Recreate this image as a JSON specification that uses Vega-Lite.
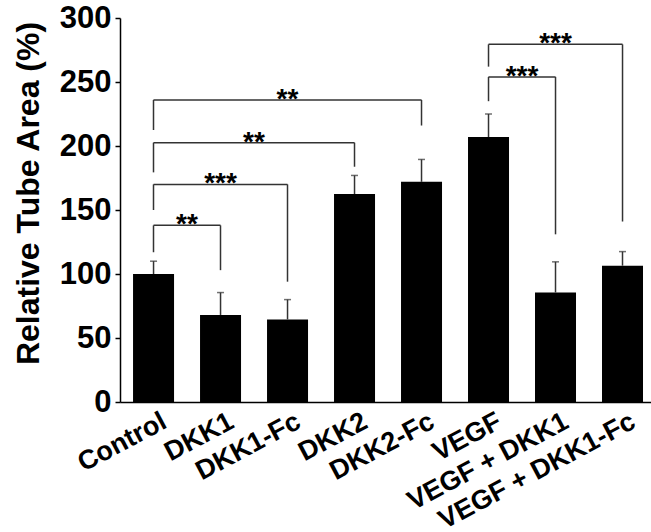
{
  "$schema": "https://vega.github.io/schema/vega-lite/v6.json",
  "autosize": "none",
  "padding": {"left": 120, "top": 18, "right": 0, "bottom": 130},
  "width": 531,
  "height": 384,
  "config": {"view": {"stroke": null}, "font": "Liberation Sans"},
  "datasets": {
    "bars": [
      {"group": "Control", "value": 100, "err": 110},
      {"group": "DKK1", "value": 68, "err": 85.5},
      {"group": "DKK1-Fc", "value": 64.5, "err": 80},
      {"group": "DKK2", "value": 162.5, "err": 177},
      {"group": "DKK2-Fc", "value": 172, "err": 189.5},
      {"group": "VEGF", "value": 207, "err": 225},
      {"group": "VEGF + DKK1", "value": 85.5, "err": 109.5},
      {"group": "VEGF + DKK1-Fc", "value": 106.5, "err": 117.5}
    ],
    "brackets": [
      {"a": 1, "b": 2, "mid": 1.5, "top": 138, "lo_a": 117, "lo_b": 103, "label": "**"},
      {"a": 1, "b": 3, "mid": 2, "top": 170, "lo_a": 150, "lo_b": 94, "label": "***"},
      {"a": 1, "b": 4, "mid": 2.5, "top": 202.6, "lo_a": 179.4, "lo_b": 183.8, "label": "**"},
      {"a": 1, "b": 5, "mid": 3, "top": 236, "lo_a": 212.5, "lo_b": 216, "label": "**"},
      {"a": 6, "b": 7, "mid": 6.5, "top": 254, "lo_a": 235, "lo_b": 131, "label": "***"},
      {"a": 6, "b": 8, "mid": 7, "top": 279.4, "lo_a": 262, "lo_b": 141, "label": "***"}
    ]
  },
  "resolve": {"scale": {"x": "independent"}, "axis": {"x": "independent"}},
  "layer": [
    {
      "data": {"name": "bars"},
      "layer": [
        {
          "mark": {"type": "bar", "color": "#000000"},
          "encoding": {
            "x": {
              "field": "group", "type": "nominal", "sort": null,
              "scale": {"paddingInner": 0.388, "paddingOuter": 0.157, "align": 0.62},
              "axis": {
                "title": null, "labelAngle": -28, "labelAlign": "right", "labelBaseline": "top",
                "labelFontSize": 27, "labelFontWeight": "bold", "labelColor": "#000000",
                "labelPadding": 6, "labelOffset": 5, "ticks": false, "domainColor": "#000000", "domainWidth": 1.5,
                "labelOverlap": false, "labelLimit": 0
              }
            },
            "y": {
              "field": "value", "type": "quantitative",
              "scale": {"domain": [0, 300], "nice": false},
              "axis": {
                "title": "Relative Tube  Area (%)", "values": [0, 50, 100, 150, 200, 250, 300],
                "grid": false, "tickSize": 5, "tickWidth": 1.5, "tickColor": "#000000",
                "domainColor": "#000000", "domainWidth": 1.5,
                "labelFontSize": 31, "labelFontWeight": "bold", "labelColor": "#000000", "labelPadding": 4,
                "titleFontSize": 32, "titleFontWeight": "bold", "titleColor": "#000000",
                "titleX": -92, "titleY": 175, "titleAngle": -90, "titleAlign": "center", "titleBaseline": "middle"
              }
            }
          }
        },
        {
          "mark": {"type": "rule", "color": "#333333", "strokeWidth": 1.5},
          "encoding": {
            "x": {"field": "group", "type": "nominal", "sort": null},
            "y": {"field": "value", "type": "quantitative"},
            "y2": {"field": "err"}
          }
        },
        {
          "mark": {"type": "tick", "color": "#333333", "orient": "horizontal", "size": 7, "thickness": 1.5},
          "encoding": {
            "x": {"field": "group", "type": "nominal", "sort": null},
            "y": {"field": "err", "type": "quantitative"}
          }
        }
      ]
    },
    {
      "data": {"name": "brackets"},
      "layer": [
        {
          "mark": {"type": "rule", "color": "#333333", "strokeWidth": 1.5},
          "encoding": {
            "x": {"field": "a", "type": "quantitative", "scale": {"domain": [0.5, 8.425], "nice": false, "zero": false}, "axis": null},
            "x2": {"field": "b"},
            "y": {"field": "top", "type": "quantitative"}
          }
        },
        {
          "mark": {"type": "rule", "color": "#333333", "strokeWidth": 1.5},
          "encoding": {
            "x": {"field": "a", "type": "quantitative"},
            "y": {"field": "lo_a", "type": "quantitative"},
            "y2": {"field": "top"}
          }
        },
        {
          "mark": {"type": "rule", "color": "#333333", "strokeWidth": 1.5},
          "encoding": {
            "x": {"field": "b", "type": "quantitative"},
            "y": {"field": "lo_b", "type": "quantitative"},
            "y2": {"field": "top"}
          }
        },
        {
          "mark": {"type": "text", "fontSize": 28, "fontWeight": "bold", "color": "#000000", "align": "center", "baseline": "alphabetic", "dy": 8},
          "encoding": {
            "x": {"field": "mid", "type": "quantitative"},
            "y": {"field": "top", "type": "quantitative"},
            "text": {"field": "label"}
          }
        }
      ]
    }
  ]
}
